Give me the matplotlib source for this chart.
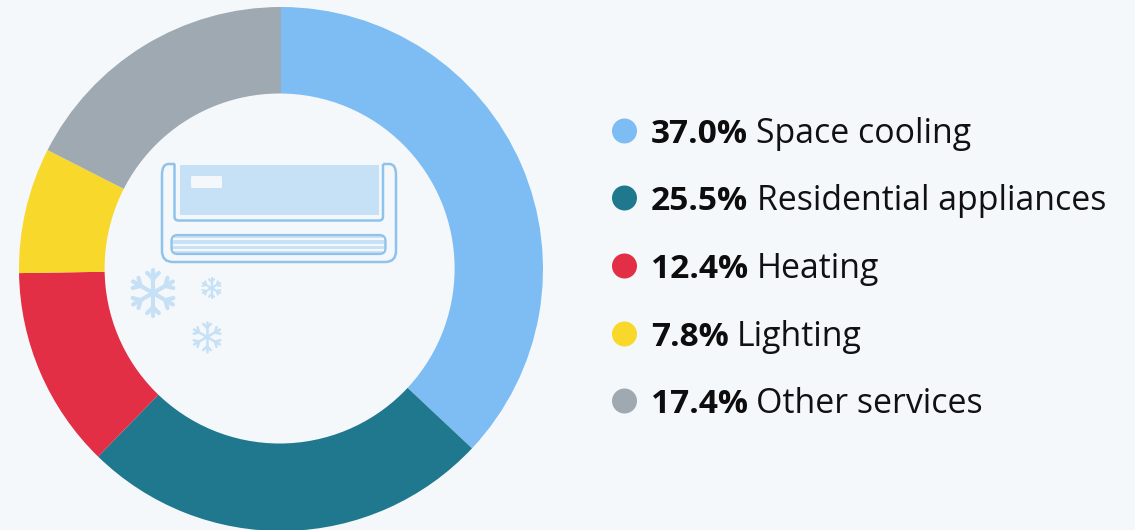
import matplotlib
matplotlib.use("Agg")
import numpy as np
import matplotlib.pyplot as plt
from matplotlib.patches import FancyBboxPatch, Rectangle, Circle, PathPatch
from matplotlib.path import Path

# Data
labels = ["Space cooling", "Residential appliances", "Heating", "Lighting", "Other services"]
shares = [37.0, 25.5, 12.4, 7.8, 17.4]
# arc sizes as measured on the ring, they differ a little from the printed shares
arc_shares = [37.0, 25.3, 12.45, 7.75, 17.5]
colors = ["#7dbdf3", "#20788e", "#e22f45", "#f8d82a", "#9fa9b2"]

bg = "#f4f8fb"
line_blue = "#8fc3ec"
pale_blue = "#c6e0f6"

plt.rcParams["font.family"] = ["Open Sans", "DejaVu Sans"]

fig = plt.figure(figsize=(11.35, 5.3), dpi=100, facecolor=bg)
ax = fig.add_axes([0, 0, 1, 1])

# donut, y axis runs downward so the axes work in image pixels
ax.pie(arc_shares, colors=colors, center=(281, 269), radius=262, startangle=270,
       counterclock=True, wedgeprops=dict(width=110, linewidth=0))
ax.set_xlim(0, 1135)
ax.set_ylim(530, 0)
ax.set_aspect("auto")
ax.axis("off")
# the hole sits slightly off centre in the reference
ax.add_patch(Circle((279.6, 268.5), 175, facecolor=bg, edgecolor="none", zorder=1.5))


def rounded_line(points, r=11, lw=1.8, color=line_blue):
    # polyline with curved corners
    verts, codes = [points[0]], [Path.MOVETO]
    for i in range(1, len(points) - 1):
        p0, p1, p2 = map(np.array, (points[i - 1], points[i], points[i + 1]))
        a = p1 + (p0 - p1) / np.linalg.norm(p0 - p1) * min(r, np.linalg.norm(p0 - p1) / 2)
        b = p1 + (p2 - p1) / np.linalg.norm(p2 - p1) * min(r, np.linalg.norm(p2 - p1) / 2)
        verts += [tuple(a), tuple(p1), tuple(b)]
        codes += [Path.LINETO, Path.CURVE3, Path.CURVE3]
    verts.append(points[-1])
    codes.append(Path.LINETO)
    ax.add_patch(PathPatch(Path(verts, codes), fill=False, edgecolor=color, lw=lw, zorder=3))


# air conditioner
ax.add_patch(Rectangle((179.5, 165), 199, 50, facecolor=pale_blue, edgecolor="none", zorder=2))
ax.add_patch(FancyBboxPatch((191, 176), 31, 12, boxstyle="round,pad=0,rounding_size=1.5",
                            facecolor=bg, edgecolor="none", zorder=2.5))
rounded_line([(175, 164), (162, 164), (162, 262), (396, 262), (396, 164), (383, 164)])
rounded_line([(174.5, 164), (174.5, 220.5), (383, 220.5), (383, 164)], r=4)

# louver
ax.add_patch(FancyBboxPatch((171.5, 235), 214, 19, boxstyle="round,pad=0,rounding_size=6",
                            facecolor=pale_blue, edgecolor=line_blue, lw=1.6, zorder=2))
for y in [238.5, 244.5, 249.5]:
    ax.plot([173, 384], [y, y], color=bg, lw=1.6, solid_capstyle="butt", zorder=2.5)


def snowflake(cx, cy, size, lw):
    # six arms with two small barbs near each tip
    for k in range(6):
        ang = np.pi / 2 + k * np.pi / 3
        d = np.array([np.cos(ang), np.sin(ang)])
        ax.plot([cx, cx + d[0] * size], [cy, cy + d[1] * size], color=pale_blue, lw=lw,
                solid_capstyle="round", zorder=2)
        base = np.array([cx, cy]) + d * size * 0.62
        for sgn in (-1, 1):
            a2 = ang + sgn * np.pi / 4
            tip = base + np.array([np.cos(a2), np.sin(a2)]) * size * 0.36
            ax.plot([base[0], tip[0]], [base[1], tip[1]], color=pale_blue, lw=lw,
                    solid_capstyle="round", zorder=2)


snowflake(153, 293, 23, 3.0)
snowflake(211.5, 288, 10, 1.5)
snowflake(207, 337, 15, 1.8)

# legend
dot_y = [131, 198, 266, 334, 401]
for dy, lab, val, col in zip(dot_y, labels, shares, colors):
    ax.add_patch(Circle((624.5, dy), 12.5, facecolor=col, edgecolor="none"))
    t = ax.text(651, dy + 12, f"{val:.1f}%", fontsize=24.1, fontweight="bold", color="#0d0d0d",
                va="baseline", ha="left")
    fig.canvas.draw()
    bb = t.get_window_extent()
    ax.text(bb.x1 + 8.5, dy + 12, lab, fontsize=24.4, color="#111111", va="baseline", ha="left")

fig.savefig("out.png", dpi=100, facecolor=bg)
